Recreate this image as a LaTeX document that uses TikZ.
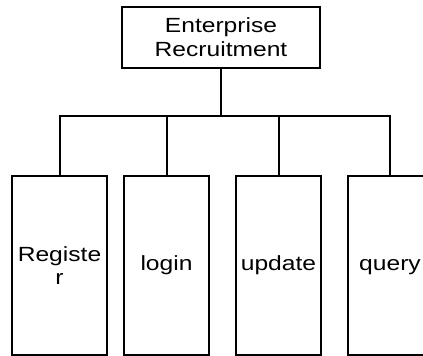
\documentclass[tikz,border=0pt]{standalone}
\usepackage{fontspec}
\setmainfont{Liberation Sans}[FakeStretch=1.2]
\begin{document}
\begin{tikzpicture}[x=1pt,y=1pt,line width=2pt,
  caixa/.style={draw,rectangle,inner sep=0pt,align=center,
    font=\fontsize{20.5}{23.7}\selectfont},
  linha/.style={caixa,text height=15pt,text depth=4.4pt}]
\useasboundingbox (0,0) rectangle (423,356);
\clip (0,0) rectangle (423,356);

% Caixa superior
\node[caixa,minimum width=198pt,minimum height=61pt] (topo) at (221,318.5) {Enterprise\\Recruitment};

% Caixas de baixo
\node[caixa,minimum width=95pt,minimum height=179pt] (registro) at (59.5,90.5) {Registe\\r};
\node[linha,minimum width=85pt,minimum height=179pt] (login) at (166.5,90.5) {login};
\node[linha,minimum width=85pt,minimum height=179pt] (update) at (278.5,90.5) {update};
\node[linha,minimum width=85pt,minimum height=179pt] (query) at (390,90.5) {query};

% Ligacoes
\coordinate (barra) at (topo.south |- 0,240);
\draw (topo.south) -- (barra);
\draw (barra) -| (registro.north);
\draw (barra) -| (login.north);
\draw (barra) -| (update.north);
\draw (barra) -| (query.north);

\end{tikzpicture}
\end{document}
